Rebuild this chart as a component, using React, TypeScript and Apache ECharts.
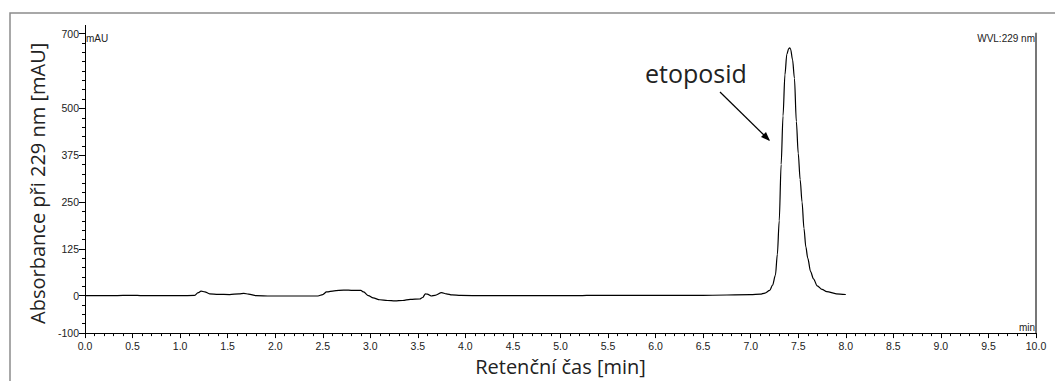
import React, { useEffect, useRef } from "react";
import * as echarts from "echarts";

const times = [
  0.0, 0.3, 0.5, 0.6, 1.0, 1.15, 1.19, 1.22, 1.26, 1.31, 1.4, 1.52, 1.62, 1.67, 1.72, 1.8, 1.95, 2.2, 2.45,
  2.5, 2.54, 2.62, 2.72, 2.82, 2.9, 2.93, 2.98, 3.03, 3.1, 3.18, 3.26, 3.34, 3.42, 3.52, 3.55, 3.58, 3.6,
  3.64, 3.68, 3.75, 3.8, 3.86, 3.95, 4.2, 5.0, 5.2, 5.35, 5.6, 6.0, 6.5, 7.0, 7.1, 7.15, 7.2, 7.23, 7.26,
  7.28, 7.3, 7.32, 7.34, 7.36, 7.38, 7.4, 7.41, 7.42, 7.44, 7.46, 7.48, 7.5, 7.52, 7.54, 7.56, 7.58, 7.6,
  7.63, 7.66, 7.7, 7.75, 7.8, 7.9, 8.0,
];
const absorbance = [
  0, 0, 1, 0, 0, 0.5, 8, 12, 10, 5, 3.5, 3, 5, 6, 4, 0, -1, -1, -1,
  3, 10, 13, 15, 14, 14, 10, 0, -6, -11, -13, -14, -13, -10, -9, -5, 5, 4,
  -1, 1, 8, 5, 2, 0.5, 0, 0, 0, 1, 1, 1, 1, 2.5, 4, 7, 14, 28, 55,
  110, 200, 350, 480, 590, 645, 660, 662, 658, 630, 580, 465, 380, 310, 250, 180, 130, 100,
  64, 45, 26, 17, 11, 5, 3,
];
const yLabelValues = [-100, 0, 125, 250, 375, 500, 700];

const TICK_FONT = "'Liberation Sans', Arial, sans-serif";
const TITLE_FONT = "'Open Sans', 'Noto Sans', sans-serif";

export default function App() {
  const ref = useRef<HTMLDivElement>(null);
  useEffect(() => {
    document.body.style.margin = "0";
    const chart = echarts.init(ref.current!, null, { renderer: "svg" });
    const data = times.map((t, i) => [t, absorbance[i]]);
    chart.setOption({
      animation: false,
      backgroundColor: "#ffffff",
      grid: { left: 85, right: 19, top: 33.5, bottom: 47.5, containLabel: false },
      xAxis: {
        type: "value",
        min: 0,
        max: 10,
        interval: 0.5,
        name: "Retenční čas [min]",
        nameLocation: "middle",
        nameGap: 21,
        nameTextStyle: { fontFamily: TITLE_FONT, fontSize: 20, color: "#222" },
        axisLine: { show: true, onZero: false, lineStyle: { color: "#000", width: 1 } },
        axisTick: { show: true, length: 5, lineStyle: { color: "#000" } },
        minorTick: { show: true, splitNumber: 5, length: 3, lineStyle: { color: "#000" } },
        splitLine: { show: false },
        axisLabel: {
          fontFamily: TICK_FONT,
          fontSize: 10.5,
          color: "#222",
          margin: 7,
          formatter: (v: number) => v.toFixed(1),
        },
      },
      yAxis: [
        {
          type: "value",
          min: -100,
          max: 700,
          interval: 25,
          name: "Absorbance při 229 nm [mAU]",
          nameLocation: "middle",
          nameGap: 36,
          nameRotate: 90,
          nameTextStyle: { fontFamily: TITLE_FONT, fontSize: 20, color: "#222" },
          axisLine: { show: true, onZero: false, lineStyle: { color: "#000", width: 1 } },
          axisTick: { show: true, length: 6, customValues: yLabelValues, lineStyle: { color: "#000" } },
          splitLine: { show: false },
          axisLabel: {
            fontFamily: TICK_FONT,
            fontSize: 10.5,
            color: "#222",
            margin: 6,
            customValues: yLabelValues,
          },
        },
        {
          type: "value",
          position: "left",
          min: -100,
          max: 700,
          interval: 25,
          axisLine: { show: false },
          axisTick: { show: true, length: 3, lineStyle: { color: "#000" } },
          axisLabel: { show: false },
          splitLine: { show: false },
        },
        {
          type: "value",
          position: "right",
          min: -100,
          max: 700,
          interval: 25,
          axisLine: { show: true, onZero: false, lineStyle: { color: "#777", width: 2 } },
          axisTick: { show: false },
          axisLabel: { show: false },
          splitLine: { show: false },
        },
      ],
      series: [
        {
          type: "line",
          data,
          showSymbol: false,
          smooth: 0.3,
          smoothMonotone: "x",
          lineStyle: { color: "#000", width: 1.2 },
          silent: true,
        },
      ],
      graphic: [
        {
          type: "rect",
          shape: { x: 10, y: 13, width: 1100, height: 400 },
          style: { fill: "none", stroke: "#8c8c8c", lineWidth: 1.5 },
          silent: true,
        },
        {
          type: "line",
          shape: { x1: 85.5, y1: 25, x2: 85.5, y2: 34 },
          style: { stroke: "#000", lineWidth: 1 },
        },
        {
          type: "text",
          x: 86,
          y: 33,
          style: { text: "mAU", fontFamily: TICK_FONT, fontSize: 10, fill: "#222" },
        },
        {
          type: "text",
          x: 1035,
          y: 33,
          style: { text: "WVL:229 nm", fontFamily: TICK_FONT, fontSize: 10, fill: "#222", align: "right" },
        },
        {
          type: "text",
          x: 1035,
          y: 322,
          style: { text: "min", fontFamily: TICK_FONT, fontSize: 10, fill: "#222", align: "right" },
        },
        {
          type: "text",
          x: 645,
          y: 73,
          style: { text: "etoposid", fontFamily: TITLE_FONT, fontSize: 25, fill: "#222", verticalAlign: "middle" },
        },
        {
          type: "line",
          shape: { x1: 720, y1: 92, x2: 769, y2: 140 },
          style: { stroke: "#000", lineWidth: 1.2 },
        },
        {
          type: "polygon",
          shape: { points: [[770, 141], [761, 137], [766, 132]] },
          style: { fill: "#000" },
        },
      ],
    });
    return () => chart.dispose();
  }, []);
  return <div ref={ref} style={{ width: 1055, height: 381 }} />;
}
